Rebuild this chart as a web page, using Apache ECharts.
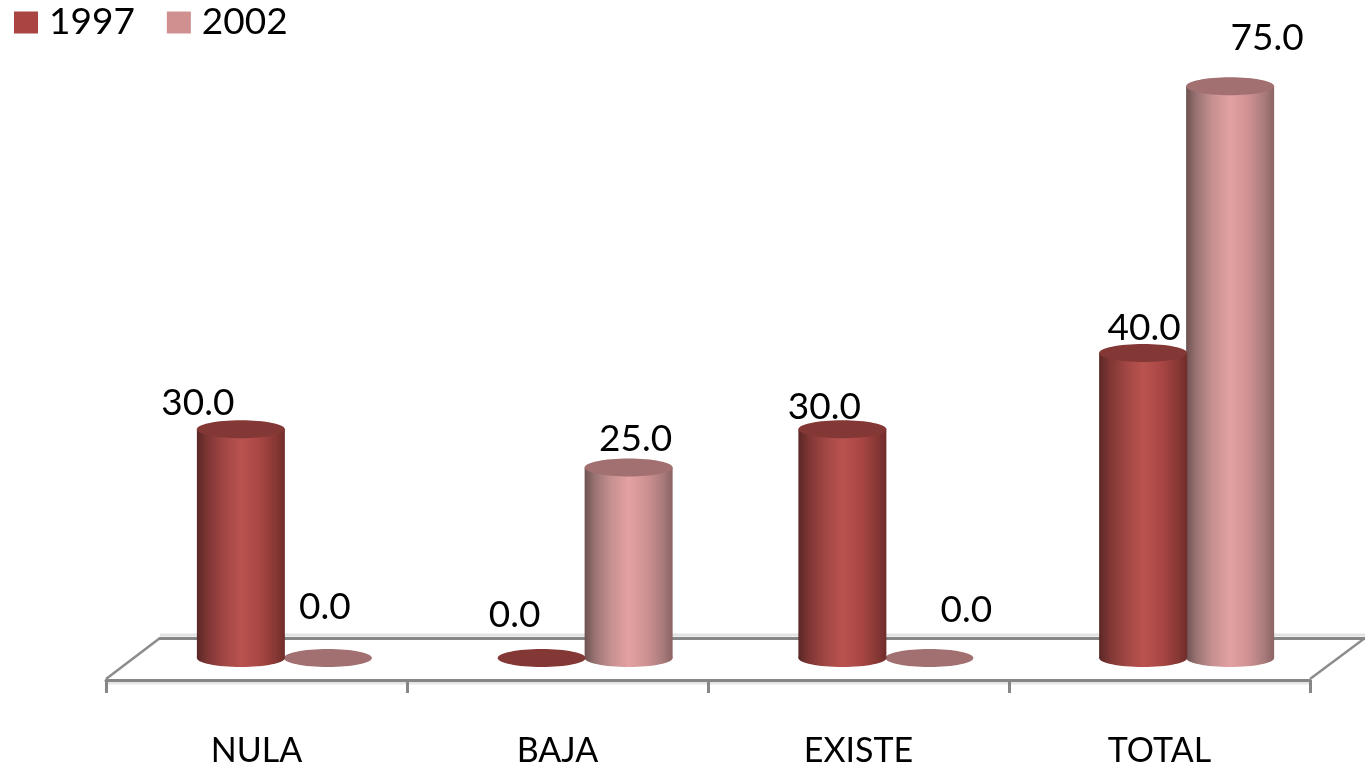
<!DOCTYPE html>
<html>
<head>
<meta charset="utf-8">
<script src="https://cdn.jsdelivr.net/npm/echarts@6/dist/echarts.min.js"></script>
<style>html,body{margin:0;padding:0;background:#fff}#c{width:1365px;height:765px}</style>
</head>
<body>
<div id="c"></div>
<script>
const categories = ['NULA', 'BAJA', 'EXISTE', 'TOTAL'];
const values1997 = [30, 0, 30, 40];
const values2002 = [0, 25, 0, 75];
const labelNudge1997 = [[-43, -26], [-27, -43], [-18, -22], [1, -25]];
const labelNudge2002 = [[-3, -51], [7, -28], [37, -48], [37, -48]];

const FONT = 'Lato, "Open Sans", sans-serif';
const BAR_W = 88, PITCH = 87, RY = 9;
const chart = echarts.init(document.getElementById('c'), null, {renderer: 'canvas'});
const grad = (stops) => new echarts.graphic.LinearGradient(0, 0, 1, 0, stops.map(s => ({offset: s[0], color: s[1]})));

function cylinder(side, stops, topColor, nudges) {
  return function (params, api) {
    const i = api.value(0), v = api.value(1);
    const base = api.coord([i, 0]);
    const top = api.coord([i, v]);
    const cx = base[0] + side * PITCH / 2;
    const children = [];
    if (v > 0) {
      const fill = grad(stops);
      children.push({type: 'ellipse', shape: {cx: cx, cy: base[1], rx: BAR_W / 2, ry: RY}, style: {fill: fill}});
      children.push({type: 'rect', shape: {x: cx - BAR_W / 2, y: top[1], width: BAR_W, height: base[1] - top[1]}, style: {fill: fill}});
    }
    children.push({type: 'ellipse', shape: {cx: cx, cy: top[1], rx: BAR_W / 2, ry: RY}, style: {fill: topColor}});
    const n = nudges[params.dataIndex];
    children.push({type: 'text', z2: 10, style: {
      text: v.toFixed(1), x: cx + n[0], y: top[1] + n[1],
      align: 'center', verticalAlign: 'middle', fill: '#000', font: '37px ' + FONT
    }});
    return {type: 'group', children: children};
  };
}

const stops97 = [[0, '#5a2725'], [0.12, '#7e3634'], [0.3, '#a04644'], [0.5, '#b9534f'], [0.72, '#a84644'], [0.9, '#863734'], [1, '#702d2b']];
const stops02 = [[0, '#6f5151'], [0.12, '#9a7473'], [0.3, '#c79090'], [0.5, '#e3a1a3'], [0.72, '#cd9091'], [0.9, '#a67979'], [1, '#8c6363']];

const hiddenY = (gridIndex, max) => ({type: 'value', gridIndex, min: 0, max, show: false});
const lineAxis = {color: '#868686', width: 3};

chart.setOption({
  animation: false,
  backgroundColor: '#fff',
  legend: {
    left: 14, top: 4, padding: 0, itemWidth: 24, itemHeight: 22, itemGap: 32, icon: 'rect',
    textStyle: {fontFamily: FONT, fontSize: 37, color: '#000', padding: [0, 0, 0, 6]},
    data: ['1997', '2002']
  },
  grid: [
    {left: 134, width: 1203, top: 48, height: 610, outerBoundsMode: 'none'},
    {left: 106, width: 1204, top: 640, height: 40, outerBoundsMode: 'none'},
    {left: 160, width: 1205, top: 598, height: 40, outerBoundsMode: 'none'}
  ],
  xAxis: [
    {type: 'category', gridIndex: 0, data: categories, show: false},
    {type: 'category', gridIndex: 1, data: categories,
      axisLine: {show: true, lineStyle: lineAxis},
      axisTick: {show: true, length: 13, alignWithLabel: false, lineStyle: {color: '#868686', width: 3}},
      axisLabel: {fontFamily: FONT, fontSize: 34, color: '#000', margin: 54, interval: 0}},
    {type: 'category', gridIndex: 2, data: categories,
      axisLine: {show: true, lineStyle: lineAxis},
      axisTick: {show: false}, axisLabel: {show: false}}
  ],
  yAxis: [hiddenY(0, 80), hiddenY(1, 1), hiddenY(2, 1)],
  graphic: [
    {type: 'line', z: 0, shape: {x1: 106, y1: 679, x2: 160, y2: 638}, style: {stroke: '#8c8c8c', lineWidth: 2.5}},
    {type: 'line', z: 0, shape: {x1: 1310, y1: 679, x2: 1365, y2: 638}, style: {stroke: '#8c8c8c', lineWidth: 2.5}},
    {type: 'line', z: 0, shape: {x1: 160, y1: 635, x2: 1365, y2: 635}, style: {stroke: '#e2e2e2', lineWidth: 3}},
    {type: 'line', z: 0, shape: {x1: 106, y1: 683, x2: 1310, y2: 683}, style: {stroke: '#e6e6e6', lineWidth: 3}}
  ],
  series: [
    {name: '1997', type: 'custom', xAxisIndex: 0, yAxisIndex: 0, z: 5,
      itemStyle: {color: '#a94442'},
      data: values1997.map((v, i) => [i, v]), encode: {x: 0, y: 1},
      renderItem: cylinder(-1, stops97, '#843836', labelNudge1997)},
    {name: '2002', type: 'custom', xAxisIndex: 0, yAxisIndex: 0, z: 4,
      itemStyle: {color: '#d09090'},
      data: values2002.map((v, i) => [i, v]), encode: {x: 0, y: 1},
      renderItem: cylinder(1, stops02, '#a27070', labelNudge2002)}
  ]
});
</script>
</body>
</html>
